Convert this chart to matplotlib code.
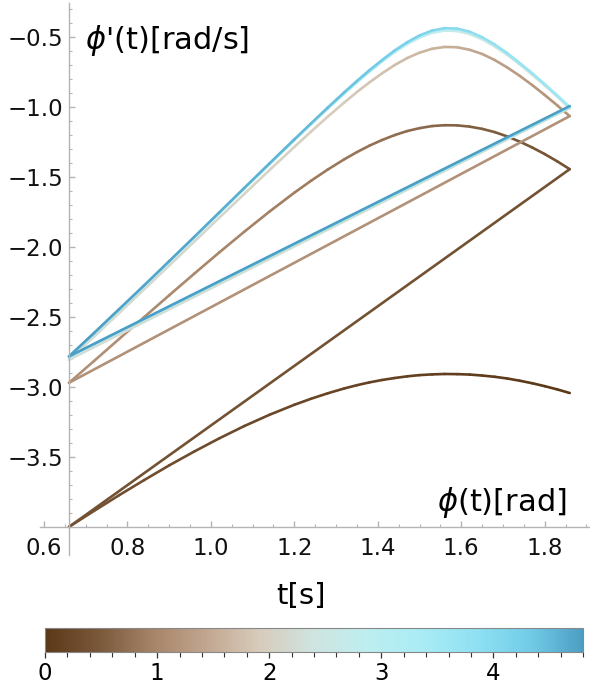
import matplotlib
matplotlib.use("Agg")
import matplotlib.pyplot as plt
import numpy as np
from matplotlib.collections import LineCollection
from matplotlib.colors import LinearSegmentedColormap, Normalize
from matplotlib.cm import ScalarMappable
from matplotlib.ticker import FixedLocator

# angle grid shared by all swing arcs (traversed from right to left)
phi_grid = [1.86, 1.83, 1.80, 1.77, 1.74, 1.71, 1.68, 1.65, 1.62, 1.59, 1.56,
            1.53, 1.50, 1.47, 1.44, 1.41, 1.38, 1.35, 1.32, 1.28, 1.24, 1.20,
            1.14, 1.08, 1.02, 0.96, 0.90, 0.84, 0.78, 0.72, 0.66]

# angular velocity on each arc
omega_arc0 = [-3.043, -3.017, -2.994, -2.973, -2.955, -2.939, -2.927, -2.918, -2.911, -2.908, -2.907,
              -2.910, -2.915, -2.924, -2.936, -2.950, -2.967, -2.987, -3.010, -3.045, -3.084, -3.127,
              -3.199, -3.279, -3.367, -3.461, -3.560, -3.665, -3.773, -3.885, -3.999]
omega_arc1 = [-1.444, -1.388, -1.336, -1.289, -1.247, -1.210, -1.179, -1.156, -1.140, -1.131, -1.130,
              -1.136, -1.151, -1.172, -1.201, -1.236, -1.276, -1.322, -1.373, -1.447, -1.527, -1.612,
              -1.748, -1.891, -2.039, -2.191, -2.345, -2.501, -2.657, -2.814, -2.970]
omega_arc2 = [-1.065, -0.988, -0.914, -0.843, -0.777, -0.717, -0.664, -0.621, -0.591, -0.573, -0.571,
              -0.584, -0.612, -0.651, -0.701, -0.760, -0.824, -0.893, -0.967, -1.069, -1.176, -1.285,
              -1.452, -1.621, -1.791, -1.962, -2.133, -2.303, -2.472, -2.640, -2.805]
omega_arc3 = [-1.007, -0.925, -0.846, -0.769, -0.696, -0.627, -0.567, -0.516, -0.478, -0.457, -0.454,
              -0.470, -0.504, -0.551, -0.609, -0.676, -0.748, -0.824, -0.903, -1.012, -1.123, -1.237,
              -1.410, -1.583, -1.758, -1.932, -2.105, -2.277, -2.447, -2.617, -2.784]
omega_arc4 = [-1.000, -0.917, -0.837, -0.759, -0.685, -0.615, -0.553, -0.501, -0.462, -0.440, -0.437,
              -0.454, -0.489, -0.538, -0.597, -0.665, -0.737, -0.814, -0.894, -1.004, -1.117, -1.231,
              -1.404, -1.578, -1.753, -1.928, -2.101, -2.274, -2.444, -2.614, -2.781]

# time stamp of each point (drives the colour)
time_arc0 = [0.000, 0.010, 0.020, 0.030, 0.040, 0.050, 0.060, 0.071, 0.081, 0.091, 0.102,
             0.112, 0.122, 0.133, 0.143, 0.153, 0.163, 0.173, 0.183, 0.196, 0.210, 0.222,
             0.241, 0.260, 0.278, 0.296, 0.313, 0.329, 0.345, 0.361, 0.376]
time_arc1 = [0.376, 0.397, 0.419, 0.442, 0.466, 0.490, 0.515, 0.541, 0.567, 0.594, 0.620,
             0.647, 0.673, 0.699, 0.724, 0.748, 0.772, 0.795, 0.818, 0.846, 0.873, 0.899,
             0.935, 0.968, 0.998, 1.026, 1.053, 1.078, 1.101, 1.123, 1.144]
time_arc2 = [1.144, 1.173, 1.205, 1.239, 1.276, 1.316, 1.360, 1.407, 1.456, 1.508, 1.560,
             1.612, 1.662, 1.710, 1.754, 1.795, 1.833, 1.868, 1.901, 1.940, 1.976, 2.008,
             2.052, 2.092, 2.127, 2.159, 2.188, 2.215, 2.240, 2.264, 2.286]
time_arc3 = [2.286, 2.317, 2.351, 2.388, 2.429, 2.475, 2.525, 2.581, 2.641, 2.705, 2.771,
             2.836, 2.898, 2.955, 3.007, 3.054, 3.096, 3.134, 3.169, 3.211, 3.249, 3.283,
             3.328, 3.368, 3.404, 3.437, 3.467, 3.494, 3.519, 3.543, 3.565]
time_arc4 = [3.565, 3.595, 3.628, 3.664, 3.703, 3.747, 3.796, 3.850, 3.908, 3.970, 4.034,
             4.096, 4.156, 4.211, 4.261, 4.306, 4.347, 4.384, 4.418, 4.458, 4.494, 4.527,
             4.571, 4.610, 4.645, 4.676, 4.705, 4.731, 4.756, 4.779, 4.800]

# velocity right after the last impact
omega_final = -0.993

x_ticks = [0.6, 0.8, 1.0, 1.2, 1.4, 1.6, 1.8]
y_ticks = [-3.5, -3.0, -2.5, -2.0, -1.5, -1.0, -0.5]
cbar_ticks = [0, 1, 2, 3, 4]

# brown -> beige -> cyan -> blue
cmap = LinearSegmentedColormap.from_list("browncyan", [
    (0.00, "#5b3818"), (0.10, "#7a583a"), (0.20, "#a68468"), (0.30, "#c2a690"),
    (0.40, "#d8ccbc"), (0.50, "#cfe4e0"), (0.60, "#bdeef0"), (0.70, "#aaecf5"),
    (0.80, "#90e1f2"), (0.90, "#72cde8"), (1.00, "#4d9ec4")])
norm = Normalize(0, 4.8)

arcs = [(omega_arc0, time_arc0), (omega_arc1, time_arc1), (omega_arc2, time_arc2),
        (omega_arc3, time_arc3), (omega_arc4, time_arc4)]

segs, vals = [], []
for i, (om, tm) in enumerate(arcs):
    pts = list(zip(phi_grid, om))
    for j in range(len(pts) - 1):
        segs.append([pts[j], pts[j + 1]])
        vals.append(0.5 * (tm[j] + tm[j + 1]))
    # impact: jump back to the right end
    nxt = arcs[i + 1][0][0] if i + 1 < len(arcs) else omega_final
    segs.append([pts[-1], (phi_grid[0], nxt)])
    vals.append(tm[-1])

W, H = 590, 694
fig = plt.figure(figsize=(W / 100, H / 100), dpi=100)
ax = fig.add_axes([39.8 / W, 1 - 555 / H, 548.7 / W, 552 / H])

lc = LineCollection(segs, cmap=cmap, norm=norm, linewidths=1.9,
                    capstyle="round", joinstyle="round")
lc.set_array(np.array(vals))
ax.add_collection(lc)

ax.set_xlim(0.59, 1.905)
ax.set_ylim(-4.2, -0.257)

grey = "#b4b4b4"
for s in ("top", "right"):
    ax.spines[s].set_visible(False)
ax.spines["left"].set_position(("data", 0.66))
ax.spines["bottom"].set_position(("data", -4.0))
for s in ("left", "bottom"):
    ax.spines[s].set_color(grey)
    ax.spines[s].set_linewidth(1.0)

ax.set_xticks(x_ticks)
ax.set_xticklabels([f"{v:.1f}" for v in x_ticks])
ax.set_yticks(y_ticks)
ax.set_yticklabels([f"\u2212{abs(v):.1f}" for v in y_ticks])
ax.xaxis.set_minor_locator(FixedLocator([0.6 + 0.05 * k for k in range(27)]))
ax.yaxis.set_minor_locator(FixedLocator([-3.9 + 0.1 * k for k in range(37)]))
ax.tick_params(which="both", direction="in", color=grey, labelsize=16.5,
               labelcolor="#111111")
ax.tick_params(which="major", length=4, width=1.0)
ax.tick_params(which="minor", length=2.2, width=0.8)
ax.tick_params(axis="x", which="major", pad=7)
ax.tick_params(axis="y", which="major", pad=4)

fig.text(85 / W, 1 - 41 / H, r"$\phi$'(t)[rad/s]", fontsize=22, ha="left", va="center")
fig.text(567 / W, 1 - 502 / H, r"$\phi$(t)[rad]", fontsize=22, ha="right", va="center")
fig.text(301 / W, 1 - 596 / H, "t[s]", fontsize=21, ha="center", va="center")

# colour bar
cax = fig.add_axes([45 / W, 1 - 652 / H, 538 / W, 24 / H])
cb = fig.colorbar(ScalarMappable(norm=norm, cmap=cmap), cax=cax, orientation="horizontal")
cb.set_ticks(cbar_ticks)
cb.ax.xaxis.set_minor_locator(FixedLocator([0.2 * k for k in range(25)]))
cb.outline.set_edgecolor("#888888")
cb.outline.set_linewidth(0.8)
cax.tick_params(which="both", direction="out", color="#333333", labelsize=16.5, pad=3)
cax.tick_params(which="major", length=4, width=0.9)
cax.tick_params(which="minor", length=3.5, width=0.8)

fig.savefig("out.png", dpi=100)
plt.close(fig)
